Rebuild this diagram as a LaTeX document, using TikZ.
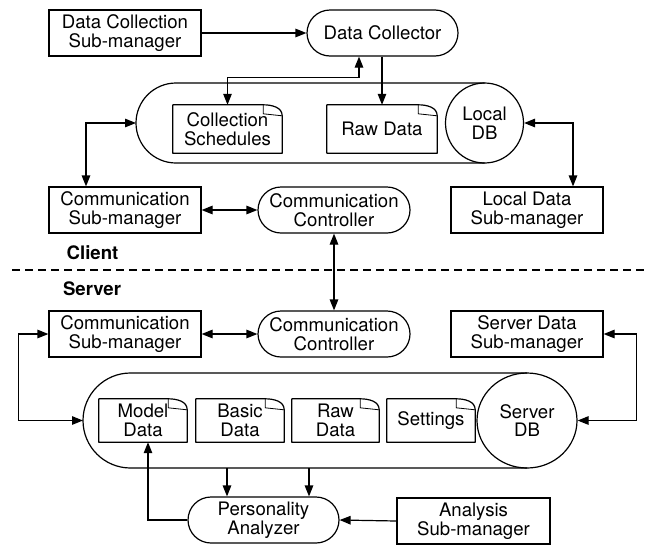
\documentclass[tikz,border=0pt]{standalone}
\usepackage{fontspec}
\setmainfont{TeX Gyre Heros}
\usetikzlibrary{arrows.meta,shapes.geometric}
\newcommand\bodyfont{\fontsize{18.6}{18.8}\selectfont}
\tikzset{
  lw/.style={line width=1.2pt},
  box/.style={draw,lw,rectangle,minimum width=152pt,minimum height=46pt,inner sep=0pt,align=center},
  stad/.style={draw,lw,rectangle,rounded corners=23pt,minimum width=151pt,minimum height=46pt,inner sep=0pt,align=center},
  docn/.style={rectangle,minimum height=48pt,inner sep=0pt,align=center},
  dbn/.style={draw,lw,ellipse,inner sep=0pt,align=center},
  conn/.style={lw,-{Triangle[length=11pt,width=8.5pt]}},
  bconn/.style={lw,{Triangle[length=11pt,width=8.5pt]}-{Triangle[length=11pt,width=8.5pt]}},
  lbl/.style={font=\bodyfont\bfseries,inner sep=0pt}
}
\newcommand\docfold[1]{%
  \draw[lw,line join=round] (#1.north west) -- ([xshift=-19pt]#1.north east) to[out=0,in=90] ([yshift=-11pt]#1.north east) -- (#1.south east) -- (#1.south west) -- cycle;
  \draw[line width=0.8pt] ([xshift=-19pt]#1.north east) -- ([xshift=-19pt,yshift=-9pt]#1.north east) -- ([yshift=-11pt]#1.north east);
}
\begin{document}
\begin{tikzpicture}[x=1pt,y=-1pt,font=\bodyfont]
\fill[white] (0,0) rectangle (655,544);
\useasboundingbox (0,0) rectangle (655,544);
% client
\node[box] (dcs) at (125,33) {Data Collection\\Sub-manager};
\node[stad] (dc) at (382.5,33) {Data Collector};
\draw[lw] (484.5,83) -- (176,83) arc[start angle=90,end angle=270,radius=40pt] -- (484.5,163);
\coordinate (ccyl) at (136,123);
\node[dbn,minimum width=78pt,minimum height=80pt] (ldb) at (484.5,123) {Local\\DB};
\node[docn,minimum width=109pt] (cs) at (227.5,129) {Collection\\Schedules};
\docfold{cs}
\node[docn,minimum width=110pt] (rd) at (382,129) {Raw Data};
\docfold{rd}
\node[box] (csm) at (125,210) {Communication\\Sub-manager};
\node[stad,minimum width=152pt] (cc) at (334,210) {Communication\\Controller};
\node[box] (ldsm) at (527,210) {Local Data\\Sub-manager};
\node[lbl] (client) at (92.5,253) {Client};
\draw[lw,dash pattern=on 8pt off 5pt] (12,270) -- (645,270);
\node[lbl] (server) at (92,289) {Server};
% server
\node[box] (ssm) at (125,334) {Communication\\Sub-manager};
\node[stad,minimum width=152pt] (scc) at (334,334) {Communication\\Controller};
\node[box] (sdsm) at (527,334) {Server Data\\Sub-manager};
\draw[lw] (527,373) -- (130.5,373) arc[start angle=90,end angle=270,radius=47.5pt] -- (527,468);
\coordinate (scyl) at (83,420.5);
\node[dbn,minimum width=100pt,minimum height=95pt] (sdb) at (527,420.5) {Server\\DB};
\node[docn,minimum width=88pt,minimum height=43pt] (md) at (143,420.5) {Model\\Data};
\docfold{md}
\node[docn,minimum width=88pt,minimum height=43pt] (bd) at (240,420.5) {Basic\\Data};
\docfold{bd}
\node[docn,minimum width=87pt,minimum height=43pt] (srd) at (335.5,420.5) {Raw\\Data};
\docfold{srd}
\node[docn,minimum width=88pt,minimum height=43pt] (st) at (431,420.5) {Settings};
\docfold{st}
\node[stad] (pa) at (263.5,520) {Personality\\Analyzer};
\node[box,minimum width=153pt] (asm) at (473.5,521) {Analysis\\Sub-manager};
\coordinate (sb1) at (227,468);
\coordinate (sb2) at (309,468);
% connectors
\draw[conn] (dcs.east) -- (dc.west);
\draw[conn] (dc.south -| rd.north) -- (rd.north);
\draw[bconn] (cs.north) -- ++(0,-27) -| ([xshift=-23.5pt]dc.south);
\draw[bconn] ([xshift=-39pt]csm.north) |- (ccyl);
\draw[bconn] (csm.east) -- (cc.west);
\draw[bconn] (ldb.east) -| ([xshift=46pt]ldsm.north);
\draw[bconn] (cc.south) -- (scc.north);
\draw[bconn] (ssm.east) -- (scc.west);
\draw[bconn] (ssm.west) -- ++(-30,0) |- (scyl);
\draw[bconn] (sdsm.east) -- ++(33,0) |- (sdb.east);
\draw[conn] (sb1) -- (sb1 |- pa.north);
\draw[conn] (sb2) -- (sb2 |- pa.north);
\draw[conn] (pa.west) -| ([xshift=5pt]md.south);
\draw[conn] (asm.west) -- (pa.east);
\end{tikzpicture}
\end{document}
